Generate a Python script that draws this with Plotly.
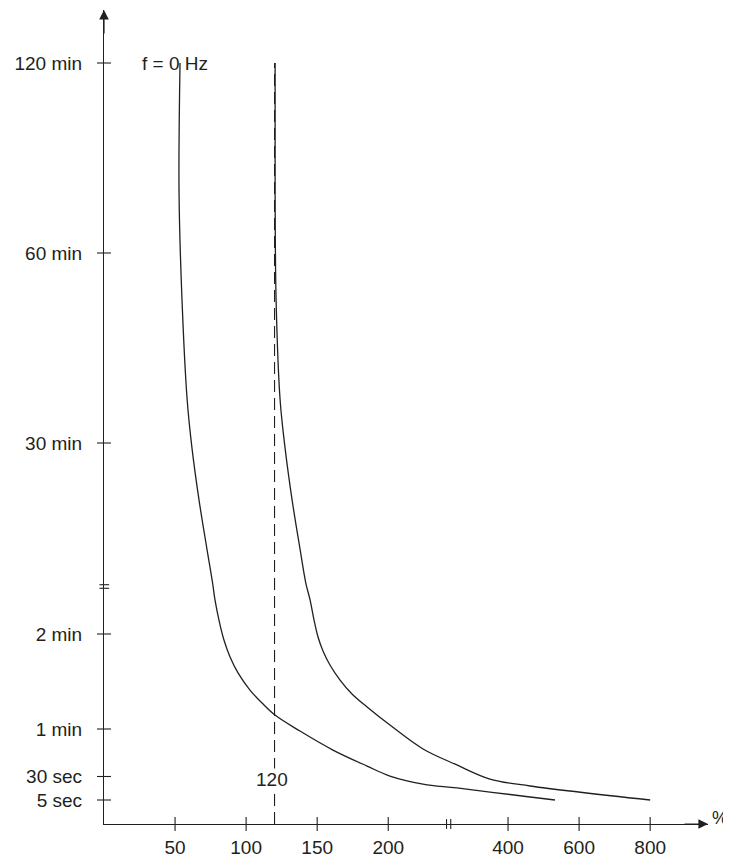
import numpy as np
import plotly.graph_objects as go

# ---------------- data ----------------
# curve labelled "f = 0 Hz": load in %, trip time in seconds
load_pct_f0 = [53.5, 52.8, 54.9, 58.5, 62.0, 66.9, 72.5, 76.4, 78.1, 80.9, 84.4,
               88.7, 94.3, 102.7, 111.2, 120.3, 137.9, 161.1, 185.1, 201.2, 224.5,
               256, 462, 532]
time_s_f0 = [7200, 4480, 3030, 2110, 1760, 1460, 1220, 1080, 141.5, 128.8, 116.2,
             105.5, 95.4, 84.6, 76.4, 68.8, 58.7, 46.7, 36.6, 30.3, 22.0,
             17.8, 8.2, 5]

# second curve (nominal frequency)
load_pct_fn = [120.4, 120.4, 121.1, 123.9, 127.5, 132.4, 138.0, 142.0, 145.0,
               147.8, 150.6, 154.1, 159.0, 166.1, 174.5, 185.1, 201.2, 224.5,
               256, 349, 462, 800]
time_s_fn = [7200, 4480, 3030, 2110, 1760, 1460, 1220, 1080, 141.5,
             128.8, 118.1, 109.3, 100.4, 90.9, 82.1, 73.9, 62.5, 47.4,
             37.3, 27.3, 19.9, 5]

rated_pct = 120

x_tick_vals = [50, 100, 150, 200, 400, 600, 800]
x_tick_text = ["50", "100", "150", "200", "400", "600", "800"]
y_tick_vals_s = [5, 30, 60, 120, 1800, 3600, 7200]
y_tick_text = ["5 sec", "30 sec", "1 min", "2 min", "30 min", "60 min", "120 min"]

# ---------------- broken-axis scales ----------------
X_BREAK = 240          # % where the x axis is broken
Y_SPLIT_S = 600        # seconds separating lower (linear) and upper (log) y segments


def xpos(p):
    p = np.asarray(p, float)
    return np.where(p <= X_BREAK, p, 284.3 + (p - 400) / 4.0)


def ypos(s):
    s = np.asarray(s, float)
    lower = np.interp(s, [0, 5, 30, 60, 120], [0, 24, 47.5, 95, 190])
    lower = np.where(s > 120, 190 + (s - 120) * 95 / 60, lower)
    upper = 761 - 190 * np.log2(7200 / np.maximum(s, 1))
    return np.where(s <= Y_SPLIT_S, lower, upper)


X_MAX = 425
Y_MAX = 814
INK = "#231f20"
FONT = "Liberation Sans, Arial, sans-serif"
FS = 19

fig = go.Figure()

# dashed rated-load line
fig.add_trace(go.Scatter(
    x=xpos([rated_pct, rated_pct]), y=ypos([0, 7200]), mode="lines",
    line=dict(color=INK, width=1.1, dash="12px,6px"), hoverinfo="skip", showlegend=False))

for xs, ys in [(load_pct_f0, time_s_f0), (load_pct_fn, time_s_fn)]:
    fig.add_trace(go.Scatter(
        x=xpos(xs), y=ypos(ys), mode="lines",
        line=dict(color=INK, width=1.3, shape="spline", smoothing=1.0),
        hoverinfo="skip", showlegend=False))

# crossing tick marks
fig.add_trace(go.Scatter(
    x=xpos(x_tick_vals), y=[0] * len(x_tick_vals), mode="markers", cliponaxis=False,
    marker=dict(symbol="line-ns", size=10, line=dict(color=INK, width=1.1)),
    hoverinfo="skip", showlegend=False))
fig.add_trace(go.Scatter(
    x=[0] * len(y_tick_vals_s), y=ypos(y_tick_vals_s), mode="markers", cliponaxis=False,
    marker=dict(symbol="line-ew", size=10, line=dict(color=INK, width=1.1)),
    hoverinfo="skip", showlegend=False))

# axis break marks (paper coordinates)
yb = float(ypos(150)) / Y_MAX
for dy in (-0.0022, 0.0022):
    fig.add_shape(type="line", xref="paper", yref="paper",
                  x0=-0.0075, x1=0.0085, y0=yb + dy, y1=yb + dy,
                  line=dict(color=INK, width=1.1))
xb = 242.5 / X_MAX
for dx in (-0.0035, 0.0035):
    fig.add_shape(type="line", xref="paper", yref="paper",
                  x0=xb + dx, x1=xb + dx, y0=-0.006, y1=0.006,
                  line=dict(color=INK, width=1.1))

# arrow heads
fig.add_annotation(x=0, y=Y_MAX, ax=0, ay=25, xref="x", yref="y",
                   text="", showarrow=True, arrowhead=2, arrowsize=1.6, arrowwidth=1.2,
                   arrowcolor=INK, standoff=0)
fig.add_annotation(x=X_MAX, y=0, ax=-25, ay=0, xref="x", yref="y",
                   text="", showarrow=True, arrowhead=2, arrowsize=1.6, arrowwidth=1.2,
                   arrowcolor=INK, standoff=0)

# text labels
fig.add_annotation(x=25.0, y=float(ypos(7200)), xref="x", yref="y", text="f = 0 Hz",
                   showarrow=False, xanchor="left", yanchor="middle",
                   font=dict(family=FONT, size=FS, color=INK))
fig.add_annotation(x=float(xpos(rated_pct)) - 1.5, y=45, xref="x", yref="y", text="120",
                   showarrow=False, xanchor="center", yanchor="middle", bgcolor="white",
                   borderpad=0,
                   font=dict(family=FONT, size=FS, color=INK))
fig.add_annotation(x=1.036, y=0.0074, xref="paper", yref="paper", text="%",
                   showarrow=False, xanchor="right", yanchor="middle",
                   font=dict(family=FONT, size=FS - 1, color=INK))

fig.update_xaxes(range=[0, X_MAX], showline=True, linecolor=INK, linewidth=1.2,
                 showgrid=False, zeroline=False, ticks="", automargin=False,
                 tickvals=xpos(x_tick_vals), ticktext=x_tick_text,
                 ticklabelstandoff=6,
                 tickfont=dict(family=FONT, size=FS, color=INK))
fig.update_yaxes(range=[0, Y_MAX], showline=True, linecolor=INK, linewidth=1.2,
                 showgrid=False, zeroline=False, ticks="", automargin=False,
                 tickvals=ypos(y_tick_vals_s), ticktext=y_tick_text,
                 ticklabelstandoff=17,
                 tickfont=dict(family=FONT, size=FS, color=INK))

# the page body adds an 8 px offset, so the figure is 8 px smaller than the window
fig.update_layout(width=723, height=850, margin=dict(l=96, r=23, t=2, b=34),
                  plot_bgcolor="white", paper_bgcolor="white",
                  font=dict(family=FONT, size=FS, color=INK))

fig.write_html("out.html")
